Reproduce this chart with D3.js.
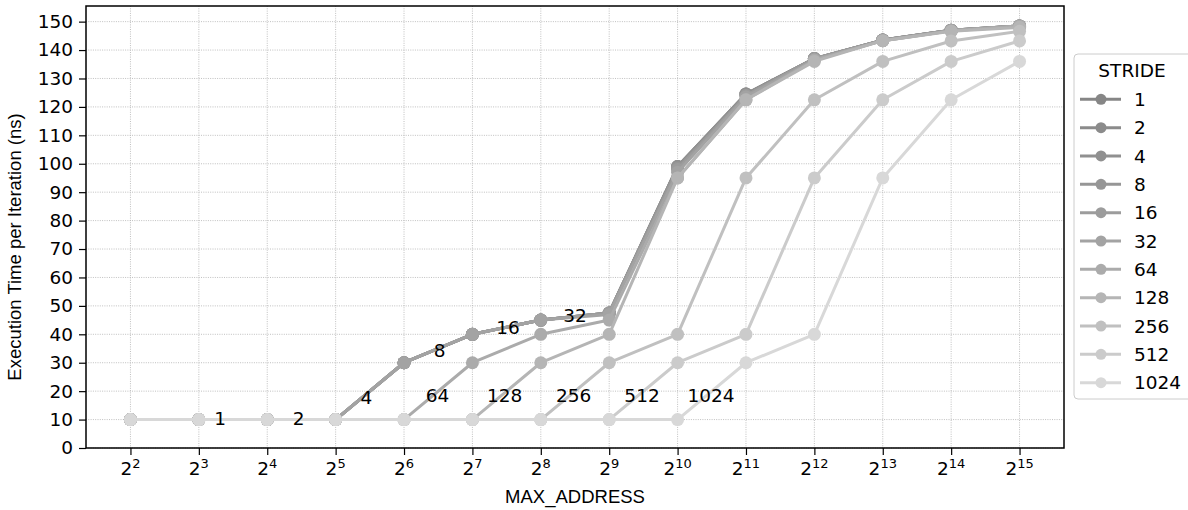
<!DOCTYPE html>
<html><head><meta charset="utf-8">
<script src="https://cdn.jsdelivr.net/npm/d3@7"></script>
<style>body{margin:0;background:#fff}svg{display:block}</style>
</head><body>
<svg id="chart" width="1188" height="510"></svg>
<script>
// ---- data ----
const exponents = [2,3,4,5,6,7,8,9,10,11,12,13,14,15];           // MAX_ADDRESS = 2^e
const strides   = [1,2,4,8,16,32,64,128,256,512,1024];
const yTicks    = [0,10,20,30,40,50,60,70,80,90,100,110,120,130,140,150];

const time1    = [10,10,10,10,30,40,45,47.5,99,124.5,137,143.5,147,148.5];
const time2    = [10,10,10,10,30,40,45,47.5,99,124.5,137,143.5,147,148.5];
const time4    = [10,10,10,10,30,40,45,47.5,99,124.5,137,143.5,147,148.5];
const time8    = [10,10,10,10,30,40,45,47.5,98.5,124,137,143.5,147,148.5];
const time16   = [10,10,10,10,30,40,45,47.5,98,124,137,143.5,147,148.5];
const time32   = [10,10,10,10,30,40,45,47,97,123.5,136.5,143.3,146.8,148.3];
const time64   = [10,10,10,10,10,30,40,45,95,122.5,136.5,143.3,146.8,148.5];
const time128  = [10,10,10,10,10,10,30,40,95,122.5,136,143.3,146.6,148];
const time256  = [10,10,10,10,10,10,10,30,40,95,122.5,136,143.2,146.6];
const time512  = [10,10,10,10,10,10,10,10,30,40,95,122.5,136,143.2];
const time1024 = [10,10,10,10,10,10,10,10,10,30,40,95,122.5,136];
const seriesValues = [time1,time2,time4,time8,time16,time32,time64,time128,time256,time512,time1024];

// in-plot stride annotations (position in axis units: exponent, ns)
const annText = ["1","2","4","8","16","32","64","128","256","512","1024"];
const annExp  = [3.31,4.46,5.45,6.52,7.52,8.50,6.49,7.47,8.48,9.48,10.49];
const annVal  = [10.5,10.5,17.9,34.5,42.6,46.6,18.5,18.5,18.5,18.5,18.5];

// ---- style ----
const colors = ["#868686","#8b8b8b","#909090","#969696","#9c9c9c","#a3a3a3","#ababab","#b5b5b5","#c0c0c0","#cbcbcb","#d8d8d8"];
const DV = "'DejaVu Sans', sans-serif";
const LS = "'Liberation Sans', Arial, sans-serif";

const svg = d3.select("#chart");
const L = 86, R = 1064, T = 6, B = 448;
const x = d3.scaleLinear().domain([1.35, 15.65]).range([L, R]);
const y = d3.scaleLinear().domain([0, 155.5]).range([B, T]);

// grid
const grid = svg.append("g");
grid.selectAll("line.gx").data(exponents).join("line")
  .attr("x1", d => x(d)).attr("x2", d => x(d)).attr("y1", T).attr("y2", B)
  .attr("stroke", "#b0b0b0").attr("stroke-width", 0.8).attr("stroke-dasharray", "1,1.3");
grid.selectAll("line.gy").data(yTicks).join("line")
  .attr("x1", L).attr("x2", R).attr("y1", d => y(d)).attr("y2", d => y(d))
  .attr("stroke", "#b0b0b0").attr("stroke-width", 0.8).attr("stroke-dasharray", "1,1.3");

// series
const line = d3.line().x((d,i) => x(exponents[i])).y(d => y(d));
seriesValues.forEach((vals, k) => {
  const g = svg.append("g");
  g.append("path").datum(vals).attr("d", line)
    .attr("fill", "none").attr("stroke", colors[k]).attr("stroke-width", 3)
    .attr("stroke-linejoin", "round");
  g.selectAll("circle").data(vals).join("circle")
    .attr("cx", (d,i) => x(exponents[i])).attr("cy", d => y(d)).attr("r", 6.5)
    .attr("fill", colors[k]);
});

// annotations
svg.append("g").selectAll("text").data(annText).join("text")
  .attr("x", (d,i) => x(annExp[i])).attr("y", (d,i) => y(annVal[i]))
  .attr("dy", "0.36em").attr("text-anchor", "middle")
  .attr("font-family", DV).attr("font-size", 18.5).attr("fill", "#000")
  .text(d => d);

// frame
svg.append("rect").attr("x", L).attr("y", T).attr("width", R - L).attr("height", B - T)
  .attr("fill", "none").attr("stroke", "#000").attr("stroke-width", 1.5);

// y axis
const yAxis = d3.axisLeft(y).tickValues(yTicks).tickSize(7).tickPadding(6);
const gy = svg.append("g").attr("transform", `translate(${L},0)`).call(yAxis);
gy.select(".domain").remove();
gy.selectAll(".tick line").attr("stroke", "#000").attr("stroke-width", 1.2);
gy.selectAll(".tick text").attr("font-family", DV).attr("font-size", 18.5).attr("fill", "#000");

// x axis
const xAxis = d3.axisBottom(x).tickValues(exponents).tickSize(7).tickFormat("");
const gx = svg.append("g").attr("transform", `translate(0,${B})`).call(xAxis);
gx.select(".domain").remove();
gx.selectAll(".tick line").attr("stroke", "#000").attr("stroke-width", 1.2);
const xl = svg.append("g").selectAll("text").data(exponents).join("text")
  .attr("x", d => x(d)).attr("y", 475).attr("text-anchor", "middle")
  .attr("font-family", DV).attr("fill", "#000");
xl.append("tspan").attr("font-size", 18.5).text("2");
xl.append("tspan").attr("font-size", 13).attr("dy", -7).text(d => d);

// axis labels
svg.append("text").attr("x", 575).attr("y", 503).attr("text-anchor", "middle")
  .attr("font-family", LS).attr("font-size", 18.5).attr("fill", "#000").text("MAX_ADDRESS");
svg.append("text").attr("transform", "translate(21,247) rotate(-90)").attr("text-anchor", "middle")
  .attr("font-family", LS).attr("font-size", 18.5).attr("fill", "#000")
  .text("Execution Time per Iteration (ns)");

// legend
const lg = svg.append("g");
lg.append("rect").attr("x", 1074).attr("y", 54).attr("width", 140).attr("height", 345)
  .attr("rx", 4).attr("fill", "#fff").attr("fill-opacity", 0.8)
  .attr("stroke", "#cccccc").attr("stroke-width", 1);
lg.append("text").attr("x", 1132).attr("y", 77).attr("text-anchor", "middle")
  .attr("font-family", DV).attr("font-size", 18.5).attr("fill", "#000").text("STRIDE");
const items = lg.selectAll("g.item").data(strides).join("g")
  .attr("transform", (d,i) => `translate(0,${99.3 + i * 28.34})`);
items.append("line").attr("x1", 1080).attr("x2", 1121).attr("y1", 0).attr("y2", 0)
  .attr("stroke", (d,i) => colors[i]).attr("stroke-width", 3);
items.append("circle").attr("cx", 1101).attr("cy", 0).attr("r", 5.5).attr("fill", (d,i) => colors[i]);
items.append("text").attr("x", 1134).attr("y", 0).attr("dy", "0.36em")
  .attr("font-family", DV).attr("font-size", 18.5).attr("fill", "#000").text(d => d);
</script>
</body></html>
